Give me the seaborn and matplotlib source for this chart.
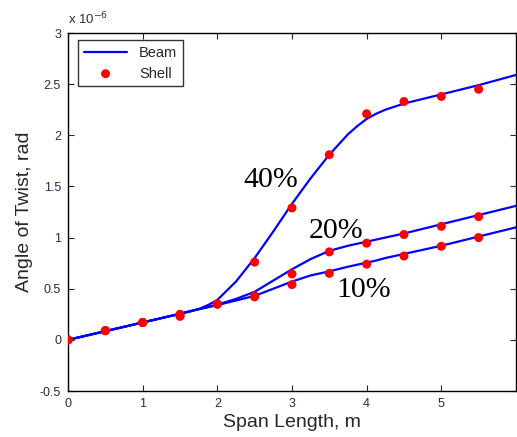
import numpy as np
import pandas as pd
import matplotlib
matplotlib.use("Agg")
import matplotlib.pyplot as plt
import seaborn as sns

# Shell (FE) results
shell_x = [0, 0.5, 1.0, 1.5, 2.0, 2.5, 3.0, 3.5, 4.0, 4.5, 5.0, 5.5]
shell_40 = [0.0, 0.09, 0.17, 0.25, 0.35, 0.76, 1.29, 1.81, 2.21, 2.33, 2.38, 2.45]
shell_20 = [0.0, 0.09, 0.17, 0.24, 0.35, 0.43, 0.645, 0.86, 0.945, 1.03, 1.11, 1.205]
shell_10 = [0.0, 0.09, 0.17, 0.23, 0.35, 0.42, 0.54, 0.65, 0.74, 0.82, 0.915, 1.0]

# Beam model curves
beam_x = [0, 0.5, 1.0, 1.5, 1.75, 1.875, 2.0, 2.25, 2.5, 2.75, 3.0, 3.25, 3.5, 3.75, 3.875, 4.0, 4.125, 4.25, 4.5, 5.0, 5.5, 6.0]
beam_40 = [0.0, 0.085, 0.17, 0.255, 0.30, 0.34, 0.39, 0.57, 0.80, 1.06, 1.33, 1.58, 1.81, 2.01, 2.09, 2.16, 2.21, 2.25, 2.31, 2.40, 2.49, 2.59]
beam_20 = [0.0, 0.085, 0.17, 0.255, 0.30, 0.32, 0.345, 0.40, 0.47, 0.58, 0.69, 0.79, 0.87, 0.92, 0.94, 0.96, 0.98, 1.00, 1.04, 1.13, 1.22, 1.31]
beam_10 = [0.0, 0.085, 0.17, 0.255, 0.30, 0.32, 0.34, 0.385, 0.43, 0.50, 0.57, 0.63, 0.67, 0.715, 0.735, 0.755, 0.775, 0.80, 0.84, 0.92, 1.01, 1.10]

labels = ["40%", "20%", "10%"]
label_x = [2.72, 3.59, 3.96]
label_y = [1.56, 1.06, 0.49]

xticks = [0, 1, 2, 3, 4, 5]
yticks = [-0.5, 0, 0.5, 1, 1.5, 2, 2.5, 3]
ytick_labels = ["-0.5", "0", "0.5", "1", "1.5", "2", "2.5", "3"]

sns.set_style("ticks")
plt.rcParams["font.family"] = ["Liberation Sans", "DejaVu Sans"]

fig = plt.figure(figsize=(5.17, 4.37), dpi=100)
ax = fig.add_axes([68 / 517, 1 - 391 / 437, 1 - 68 / 517 - 0.002, (391 - 33) / 437])

cases = ["40", "20", "10"]
beam = pd.DataFrame({"x": beam_x * 3,
                     "y": beam_40 + beam_20 + beam_10,
                     "case": sum([[c] * len(beam_x) for c in cases], [])})
shell = pd.DataFrame({"x": shell_x * 3,
                      "y": shell_40 + shell_20 + shell_10,
                      "case": sum([[c] * len(shell_x) for c in cases], [])})

for i, c in enumerate(cases):
    d = beam[beam.case == c]
    sns.lineplot(data=d, x="x", y="y", ax=ax, color="#0000ff", linewidth=1.6,
                 label="Beam" if i == 0 else None, legend=False, sort=False)
for i, c in enumerate(cases):
    d = shell[shell.case == c]
    sns.scatterplot(data=d, x="x", y="y", ax=ax, color="#ff0000", s=42, edgecolor="none",
                    label="Shell" if i == 0 else None, legend=False, zorder=3)

for t, lx, ly in zip(labels, label_x, label_y):
    ax.text(lx, ly, t, fontsize=21.5, family=["Liberation Serif", "DejaVu Serif"],
            ha="center", va="center", color="black")

ax.set_xlim(0, 6)
ax.set_ylim(-0.5, 3)
ax.set_xticks(xticks)
ax.set_yticks(yticks)
ax.set_yticklabels(ytick_labels)
ax.tick_params(direction="in", top=True, right=True, length=4, width=0.8,
               labelsize=9, labelcolor="#2a2a4a", pad=5)
for s in ax.spines.values():
    s.set_visible(True)
    s.set_linewidth(1.0)
    s.set_color("black")
ax.set_xlabel("Span Length, m", fontsize=14, labelpad=3)
ax.set_ylabel("Angle of Twist, rad", fontsize=14, labelpad=5)

ax.text(0.0, 1.015, r"x 10$^{-6}$", transform=ax.transAxes, fontsize=9.5,
        color="#2a2a4a", ha="left", va="bottom")

handles, lbls = ax.get_legend_handles_labels()
leg = ax.legend(handles, lbls, loc="upper left", bbox_to_anchor=(0.022, 0.98),
                fontsize=10.5, frameon=True, fancybox=False, edgecolor="black",
                borderpad=0.4, handlelength=3.0, labelspacing=0.45, borderaxespad=0.0)
leg.get_frame().set_linewidth(1.0)

fig.savefig("out.png", dpi=100)
